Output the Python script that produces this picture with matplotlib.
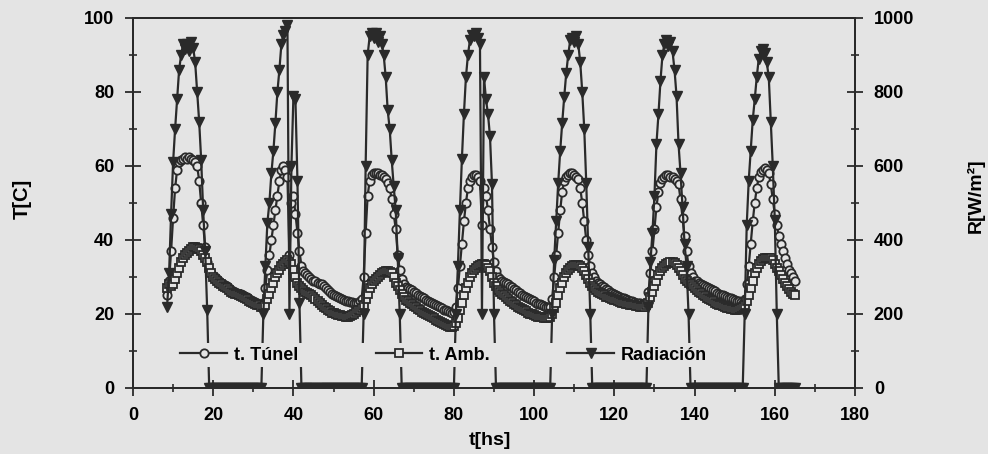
import numpy as np
import matplotlib
matplotlib.use("Agg")
import matplotlib.pyplot as plt
from matplotlib.ticker import MultipleLocator

nan = np.nan

# readings every half hour, t = 8.5 hs ... 165.5 hs (one line = 12 hs)
t_hs = np.arange(8.5, 166.0, 0.5)

# tunnel temperature [C]
t_tunel = [
    25, 29, 37, 46, 54, 59, 61, 61.5, 62, 62.5, 62, 62.5, 62, 61.5, 61, 60, 56, 50, 44, 38, 34, 32, 31, 30,
    30, 29.5, 29, 28.5, 28, 27.8, 27.5, 27, 26.5, 26.3, 26, 25.8, 25.5, 25.3, 25, 24.7, 24.5, 24, 23.8, 23.5, 23.3, 23, 22.8, 22.5,
    23, 27, 32, 36, 40, 44, 48, 52, 56, 59, 60, 59, 57, 36, 50, 52, 47, 42, 37, 33, 31.5, 31, 30.5, 30,
    29.5, 29, 28.8, 28.5, 28.2, 28, 27.5, 27, 26.5, 26, 25.5, 25, 24.8, 24.5, 24.3, 24, 23.8, 23.6, 23.5, 23.3, 23.2, 23, 23, 23,
    23.5, 24, 30, 42, 52, 56, 57.5, 58, 58, 58, 57.5, 57.5, 57, 56.5, 55.5, 54, 51, 47, 43, 36, 32, 29.5, 28, 27.4,
    27, 26.7, 26.4, 26, 25.6, 25.2, 24.8, 24.5, 24.2, 23.9, 23.6, 23.3, 23, 22.7, 22.4, 22.1, 21.8, 21.5, 21.2, 21, 20.8, 20.5, 20.3, 20.5,
    22, 27, 33, 39, 45, 50, 54, 56, 57, 57.5, 57.5, 57, 56, 44, 54, 52, 48, 43, 38, 34, 31.5, 30, 29.5, 29,
    28.7, 28.4, 28, 27.6, 27.2, 26.8, 26.4, 26, 25.6, 25.2, 24.9, 24.6, 24.3, 24, 23.7, 23.4, 23.1, 22.8, 22.6, 22.4, 22.2, 22, 21.9, 22,
    24, 30, 36, 42, 48, 53, 56, 57, 57.5, 58, 58, 57.5, 57, 56.5, 54, 50, 45, 40, 36, 33, 31, 30, 29, 28.5,
    28, 27.6, 27.2, 26.8, 26.4, 26, 25.7, 25.4, 25.1, 24.8, 24.6, 24.4, 24.2, 24, 23.8, 23.6, 23.4, 23.2, 23.1, 23, 22.9, 22.8, 22.8, 23,
    26, 31, 37, 43, 49, 53, 55.5, 56.5, 57, 57.5, 57.5, 57, 57, 56.5, 56, 55, 51, 46, 41, 37, 33, 31, 30, 29,
    28.8, 28.5, 28.2, 27.9, 27.6, 27.3, 27, 26.7, 26.4, 26.1, 25.8, 25.5, 25.2, 25, 24.8, 24.6, 24.4, 24.2, 24, 23.8, 23.6, 23.4, 23.2, 23,
    24, 28, 33, 39, 45, 50, 54, 57, 58.5, 59, 59.5, 59, 58, 55, 51, 47, 44, 41, 39, 37, 35, 33.5, 32, 31,
    30, 29, nan,
]

# ambient temperature [C]
t_amb = [
    27, 28, 27.5, 28, 29.5, 31, 32.5, 34, 35, 36, 36.5, 37, 37.5, 38, 38, 37.8, 37.5, 37, 36, 35, 34, 32.5, 31, 30,
    29.5, 29, 28.5, 28, 27.5, 27.3, 27, 26.5, 26, 25.8, 25.5, 25.3, 25, 24.8, 24.5, 24.2, 24, 23.5, 23.3, 23, 22.8, 22.5, 22.3, 22,
    22, 22.5, 24, 25.5, 27, 28.5, 30, 31, 32, 33, 33.5, 34, 34.5, 34, 33.5, 32, 30, 28.5, 27.5, 27, 26.5, 26, 25.8, 25.5,
    25, 24.5, 24, 23.5, 23, 22.5, 22, 21.5, 21, 20.7, 20.4, 20.2, 20, 19.8, 19.6, 19.5, 19.4, 19.3, 19.3, 19.4, 19.6, 20, 20.5, 21,
    21, 21.5, 22.5, 24, 25.5, 27, 28, 29, 29.5, 30, 30.5, 31, 31.3, 31.5, 31.5, 31.3, 31, 30, 28.5, 27.5, 26.5, 25.5, 24.5, 23.8,
    23.4, 23, 22.6, 22.2, 21.8, 21.4, 21, 20.6, 20.3, 20, 19.7, 19.4, 19.1, 18.8, 18.5, 18.2, 17.9, 17.6, 17.3, 17, 16.8, 16.6, 16.5, 16.8,
    17.5, 19, 21, 23, 25, 27, 28.5, 30, 31, 32, 32.5, 33, 33.3, 33.5, 33.5, 33.2, 32.5, 31.5, 30, 28.5, 27.5, 26.5, 26, 25.5,
    25, 24.5, 24, 23.6, 23.2, 22.8, 22.4, 22, 21.6, 21.3, 21, 20.7, 20.4, 20.1, 19.9, 19.7, 19.5, 19.3, 19.2, 19.1, 19, 19, 19, 19.3,
    20, 21.5, 23, 25, 27, 28.5, 30, 31, 32, 32.5, 33, 33.2, 33.3, 33.3, 33, 32.5, 31.5, 30.5, 29.5, 28.5, 27.5, 27, 26.5, 26,
    25.6, 25.3, 25, 24.7, 24.5, 24.3, 24.1, 23.9, 23.7, 23.5, 23.3, 23.1, 22.9, 22.7, 22.6, 22.5, 22.4, 22.3, 22.2, 22.1, 22, 22, 22, 22.3,
    23, 24.5, 26, 27.5, 29, 30.5, 31.5, 32.5, 33, 33.5, 33.8, 34, 34, 33.8, 33.3, 32.5, 31.5, 30.5, 29.5, 29, 28.5, 28, 27.5, 27,
    26.5, 26, 25.6, 25.2, 24.8, 24.4, 24, 23.7, 23.4, 23.1, 22.8, 22.5, 22.3, 22.1, 21.9, 21.7, 21.5, 21.4, 21.3, 21.2, 21.2, 21.3, 21.5, 21.8,
    22.3, 23.5, 25, 27, 29, 31, 32.5, 33.5, 34.3, 34.8, 35, 35.2, 35.2, 35, 34.5, 33.5, 32.5, 31.5, 30.5, 29.5, 28.5, 27.5, 26.8, 26,
    25.5, 25, nan,
]

# solar radiation [W/m2]
radiacion = [
    220, 310, 470, 610, 700, 780, 860, 900, 930, 915, 930, 910, 935, 920, 880, 800, 720, 616, 480, 370, 210, 0, 0, 0,
    0, 0, 0, 0, 0, 0, 0, 0, 0, 0, 0, 0, 0, 0, 0, 0, 0, 0, 0, 0, 0, 0, 0, 0,
    200, 330, 446, 500, 580, 640, 716, 800, 860, 930, 955, 965, 980, 200, 600, 790, 780, 560, 230, 0, 0, 0, 0, 0,
    0, 0, 0, 0, 0, 0, 0, 0, 0, 0, 0, 0, 0, 0, 0, 0, 0, 0, 0, 0, 0, 0, 0, 0,
    0, 0, 200, 600, 900, 950, 960, 945, 960, 935, 950, 930, 900, 840, 750, 700, 616, 545, 480, 350, 200, 0, 0, 0,
    0, 0, 0, 0, 0, 0, 0, 0, 0, 0, 0, 0, 0, 0, 0, 0, 0, 0, 0, 0, 0, 0, 0, 0,
    200, 330, 480, 620, 740, 840, 900, 940, 955, 950, 960, 945, 930, 200, 840, 780, 740, 680, 550, 200, 0, 0, 0, 0,
    0, 0, 0, 0, 0, 0, 0, 0, 0, 0, 0, 0, 0, 0, 0, 0, 0, 0, 0, 0, 0, 0, 0, 0,
    200, 346, 450, 553, 640, 716, 786, 850, 900, 940, 945, 935, 950, 930, 880, 800, 700, 553, 380, 200, 0, 0, 0, 0,
    0, 0, 0, 0, 0, 0, 0, 0, 0, 0, 0, 0, 0, 0, 0, 0, 0, 0, 0, 0, 0, 0, 0, 0,
    220, 340, 420, 520, 660, 740, 830, 900, 930, 940, 925, 935, 910, 860, 790, 660, 580, 490, 390, 330, 200, 0, 0, 0,
    0, 0, 0, 0, 0, 0, 0, 0, 0, 0, 0, 0, 0, 0, 0, 0, 0, 0, 0, 0, 0, 0, 0, 0,
    200, 440, 560, 640, 724, 780, 840, 890, 910, 915, 905, 880, 840, 720, 600, 455, 200, 0, 0, 0, 0, 0, 0, 0,
    0, 0, nan,
]

assert len(t_tunel) == len(t_amb) == len(radiacion) == len(t_hs)

plt.rcParams['font.family'] = ['Liberation Sans', 'DejaVu Sans']
plt.rcParams['font.weight'] = 'bold'

bg = '#e4e4e4'
ink = '#2a2a2a'

fig = plt.figure(figsize=(9.88, 4.54), dpi=100, facecolor=bg)
ax = fig.add_axes([0.1346, 0.1454, 0.7308, 0.815])
ax.set_facecolor(bg)
ax2 = ax.twinx()

l1, = ax.plot(t_hs, t_tunel, '-o', color=ink, lw=1.6, ms=6, mfc=bg, mec=ink, mew=1.3, label='t. Túnel')
l2, = ax.plot(t_hs, t_amb, '-s', color=ink, lw=1.6, ms=5.5, mfc=bg, mec=ink, mew=1.3, label='t. Amb.')
l3, = ax2.plot(t_hs, radiacion, '-v', color=ink, lw=1.6, ms=7, mfc=ink, mec=ink, label='Radiación')

ax.set_xlim(0, 180)
ax.set_ylim(0, 100)
ax2.set_ylim(0, 1000)

ax.xaxis.set_major_locator(MultipleLocator(20))
ax.xaxis.set_minor_locator(MultipleLocator(10))
ax.yaxis.set_major_locator(MultipleLocator(20))
ax.yaxis.set_minor_locator(MultipleLocator(10))
ax2.yaxis.set_major_locator(MultipleLocator(200))
ax2.yaxis.set_minor_locator(MultipleLocator(100))

for a in (ax, ax2):
    a.tick_params(which='major', direction='inout', length=11, width=1.3, labelsize=13, pad=8, color=ink)
    a.tick_params(which='minor', direction='inout', length=6, width=1.2, color=ink)
    for s in a.spines.values():
        s.set_color(ink)
        s.set_linewidth(1.4)
ax.tick_params(axis='y', which='both', right=False)

ax.set_xlabel('t[hs]', fontsize=14, fontweight='bold')
ax.set_ylabel('T[C]', fontsize=14.5, fontweight='bold')
ax2.set_ylabel('R[W/m²]', fontsize=14, fontweight='bold')
ax.xaxis.set_label_coords(0.494, -0.12)
ax.yaxis.set_label_coords(-0.14, 0.51)
ax2.yaxis.set_label_coords(1.155, 0.52)

leg = ax2.legend(handles=[l1, l2, l3], loc='center', bbox_to_anchor=(0.43, 0.089),
                 ncol=3, fontsize=13, handlelength=2.6, columnspacing=4.3,
                 frameon=True, facecolor=bg, edgecolor='none', framealpha=1,
                 borderpad=0.2, handletextpad=0.35)

fig.savefig('out.png', dpi=100, facecolor=bg)
